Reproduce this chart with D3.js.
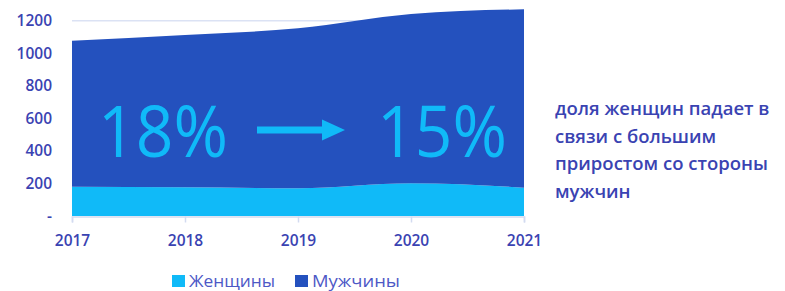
<!DOCTYPE html>
<html>
<head>
<meta charset="utf-8">
<script src="https://cdn.jsdelivr.net/npm/d3@7"></script>
<style>
    body { margin: 0; background: #fff; }
    svg { display: block; font-family: "Open Sans", sans-serif; }
</style>
</head>
<body>
<div class="chart"></div>
<script>
const years = [2017, 2018, 2019, 2020, 2021];
const women = [180, 176, 170, 201, 174];
const men = [897, 936, 983, 1040, 1096];
const yTicks = [0, 200, 400, 600, 800, 1000, 1200];
const seriesNames = ['Женщины', 'Мужчины'];
const noteLines = ['доля женщин падает в', 'связи с большим', 'приростом со стороны', 'мужчин'];
const shareFrom = '18%';
const shareTo = '15%';

const width = 785;
const height = 291;
const colors = ['#10baf8', '#2451be'];
const textColor = '#3a43b2';

const svg = d3.select('.chart').append('svg')
    .attr('width', width)
    .attr('height', height);

const x = d3.scalePoint().domain(years).range([72, 524]);
const y = d3.scaleLinear().domain([0, 1200]).range([216, 20.7]);

// gridlines
svg.append('g')
    .selectAll('line')
    .data(yTicks.slice(1))
    .enter()
    .append('line')
    .attr('x1', 72).attr('x2', 524)
    .attr('y1', d => y(d)).attr('y2', d => y(d))
    .style('stroke', '#dbe2f4')
    .style('stroke-width', 1.5);

const table = years.map((yr, i) => ({year: yr, women: women[i], men: men[i]}));
const stack = d3.stack().keys(['women', 'men']);
const area = d3.area()
    .x(d => x(d.data.year))
    .y0(d => y(d[0]))
    .y1(d => y(d[1]))
    .curve(d3.curveMonotoneX);

svg.append('g')
    .selectAll('path')
    .data(stack(table))
    .enter()
    .append('path')
    .attr('d', area)
    .style('fill', (d, i) => colors[i]);

// y axis labels
svg.append('g')
    .selectAll('text')
    .data(yTicks)
    .enter()
    .append('text')
    .attr('x', 52)
    .attr('y', d => y(d) + 5.5)
    .attr('text-anchor', 'end')
    .style('font-size', '15.5px')
    .style('font-weight', 600)
    .style('fill', textColor)
    .text(d => d === 0 ? '-' : d);

// x axis
const xAxis = svg.append('g')
    .attr('transform', 'translate(0,216.5)')
    .call(d3.axisBottom(x).tickSize(6).tickPadding(12));
xAxis.select('.domain').style('stroke', '#d3dbf0').style('stroke-width', 1.5);
xAxis.selectAll('.tick line').style('stroke', '#d3dbf0').style('stroke-width', 1.5);
xAxis.selectAll('.tick text')
    .style('font-size', '15.5px')
    .style('font-weight', 600)
    .style('font-family', '"Open Sans", sans-serif')
    .style('fill', textColor);

// big share labels with arrow
const big = svg.append('g').style('fill', colors[0]);
big.append('text')
    .attr('x', 98).attr('y', 157)
    .attr('textLength', 130).attr('lengthAdjust', 'spacingAndGlyphs')
    .style('font-size', '72px')
    .text(shareFrom);
big.append('text')
    .attr('x', 377).attr('y', 157)
    .attr('textLength', 130).attr('lengthAdjust', 'spacingAndGlyphs')
    .style('font-size', '72px')
    .text(shareTo);
big.append('path')
    .attr('d', 'M257,126.5 H322 V119.5 L345,130 L322,140.5 V133.5 H257 Z');

// note text
svg.append('g')
    .selectAll('text')
    .data(noteLines)
    .enter()
    .append('text')
    .attr('x', 555)
    .attr('y', (d, i) => 115 + i * 27.7)
    .style('font-size', '18.5px')
    .style('font-weight', 600)
    .style('fill', textColor)
    .text(d => d);

// legend
const legend = svg.append('g')
    .selectAll('g')
    .data(seriesNames)
    .enter()
    .append('g')
    .attr('transform', (d, i) => `translate(${i === 0 ? 172 : 295},275)`);
legend.append('rect')
    .attr('width', 13).attr('height', 12)
    .style('fill', (d, i) => colors[i]);
legend.append('text')
    .attr('x', 17).attr('y', 11.5)
    .attr('textLength', (d, i) => i === 0 ? 86 : 88)
    .attr('lengthAdjust', 'spacingAndGlyphs')
    .style('font-size', '16px')
    .style('fill', '#4d58c6')
    .text(d => d);
</script>
</body>
</html>
